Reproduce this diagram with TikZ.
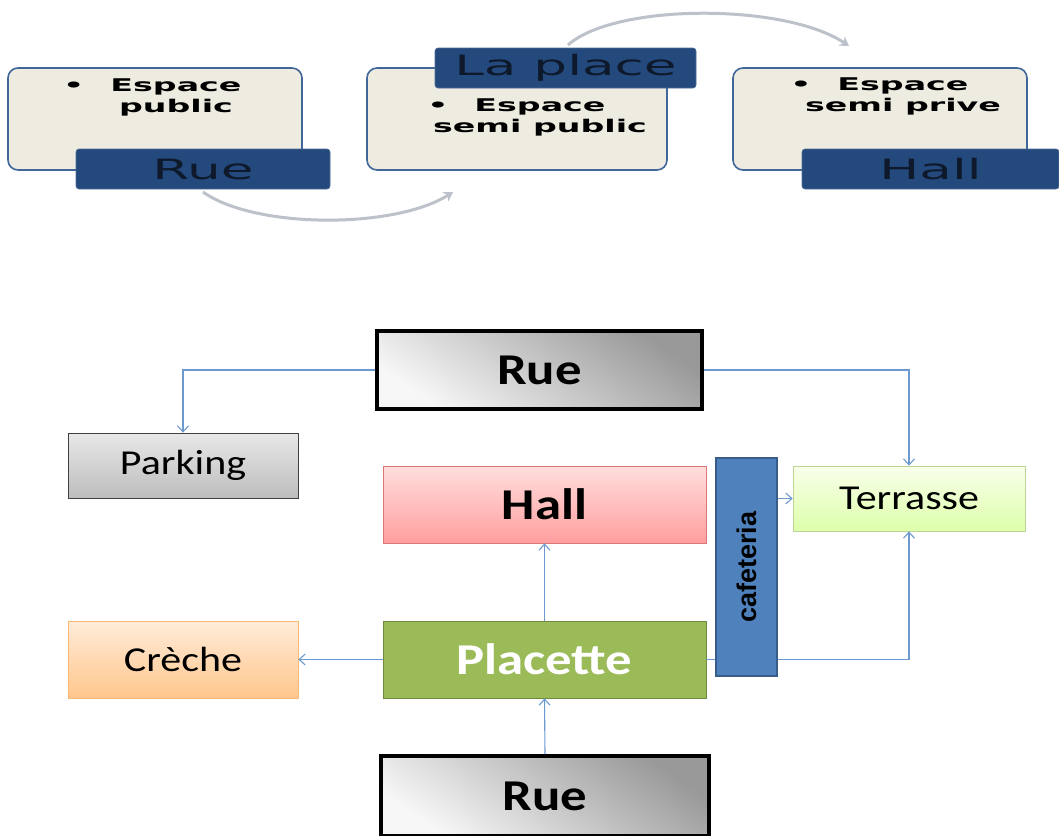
\documentclass[tikz,border=0pt]{standalone}
\usepackage{fontspec}
\setmainfont{Carlito}
\newfontfamily\smartfont{DejaVu Sans}[FakeStretch=1.9]
\newfontfamily\planfont{Carlito}[FakeStretch=1.2]
\newfontfamily\cafefont{Liberation Sans}
\usetikzlibrary{arrows.meta}
\definecolor{spacefill}{HTML}{EEECE1}
\definecolor{spaceline}{HTML}{41669A}
\definecolor{tabfill}{HTML}{24497D}
\definecolor{tabtext}{HTML}{0E1A2B}
\definecolor{arcgrey}{HTML}{BCC1CA}
\definecolor{linkblue}{HTML}{6C9AD0}
\definecolor{cafefill}{HTML}{4F81BD}
\definecolor{cafeline}{HTML}{385D8A}
\definecolor{placefill}{HTML}{9BBB59}
\definecolor{placeline}{HTML}{71893F}
\newcommand{\bulletitem}{\llap{•\hspace{26pt}}}
\begin{document}
\begin{tikzpicture}[x=1pt, y=-1pt,
    spacebox/.style={draw=spaceline, line width=1.6pt, fill=spacefill, rounded corners=10pt, inner sep=0pt},
    tabbox/.style={draw=tabfill!80!white, line width=0.6pt, fill=tabfill, rounded corners=3pt, inner sep=0pt, minimum height=40pt,
      font=\smartfont\fontsize{28}{30}\selectfont, text=tabtext},
    spacetext/.style={align=center, inner sep=0pt, font=\smartfont\bfseries\fontsize{17.5}{21}\selectfont},
    arcarr/.style={draw=arcgrey, line width=3pt, -{Stealth[length=9pt,width=11pt]}},
    ruebox/.style={draw=black, line width=4pt, inner sep=0pt, top color=black!40, bottom color=white!97!black, shading angle=-35,
      font=\planfont\bfseries\fontsize{44}{44}\selectfont},
    planbox/.style={draw, line width=0.8pt, inner sep=0pt, font=\planfont\fontsize{35}{35}\selectfont},
    linkarr/.style={draw=linkblue, line width=1.1pt, -{Straight Barb[length=6pt,width=11pt]}}]
  \useasboundingbox (0,0) rectangle (1059,835);

  % spaces
  \node[spacebox, minimum width=294pt, minimum height=102pt] (pub) at (155,119) {};
  \node[spacebox, minimum width=300pt, minimum height=102pt] (semipub) at (517,119) {};
  \node[spacebox, minimum width=294pt, minimum height=102pt] (semipriv) at (880,119) {};
  \node[spacetext] (pubtxt) at (176,97) {\bulletitem Espace\\public};
  \node[spacetext] (semipubtxt) at (540,117) {\bulletitem Espace\\semi public};
  \node[spacetext] (semiprivtxt) at (903,96) {\bulletitem Espace\\semi prive};
  \node[tabbox, minimum width=254pt] (tabrue) at (203,169) {Rue};
  \node[tabbox, minimum width=261pt] (tabplace) at (565.5,68) {La place};
  \node[tabbox, minimum width=257pt] (tabhall) at (930.5,169) {Hall};
  \coordinate (arc1a) at (203,192);
  \coordinate (arc1b) at (453,192);
  \coordinate (arc2a) at (568,45);
  \coordinate (arc2b) at (849,46);
  \draw[arcarr] (arc1a) .. controls (255,229) and (395,229) .. (arc1b);
  \draw[arcarr] (arc2a) .. controls (615,3) and (785,3) .. (arc2b);

  % plan
  \node[ruebox, minimum width=325pt, minimum height=78pt] (rueN) at (539.5,370) {Rue};
  \node[planbox, draw=black!75, top color=black!9, bottom color=black!26, minimum width=230pt, minimum height=65pt] (parking) at (183,465.5) {Parking};
  \node[planbox, draw=red!45!white!85!black, top color=red!13, bottom color=red!38, minimum width=323pt, minimum height=77pt,
    font=\planfont\bfseries\fontsize{44}{44}\selectfont] (hall) at (544.5,504.5) {Hall};
  \node[planbox, draw=placefill!65, top color=green!30!yellow!8, bottom color=green!40!yellow!33, minimum width=232pt, minimum height=65pt] (terrasse) at (909,498.5) {Terrasse};
  \node[planbox, draw=orange!55, top color=orange!15, bottom color=orange!45, minimum width=230pt, minimum height=77pt] (creche) at (183,659.5) {Crèche};
  \node[planbox, draw=placeline, fill=placefill, text=white, minimum width=323pt, minimum height=77pt,
    font=\planfont\bfseries\fontsize{44}{44}\selectfont] (placette) at (544.5,659.5) {Placette};
  \node[ruebox, minimum width=328pt, minimum height=80pt] (rueS) at (545,796) {Rue};

  \draw[linkarr] (rueN.west) -| (parking.north);
  \draw[linkarr] (rueN.east) -| (terrasse.north);
  \draw[linkarr] (placette.north) -- (hall.south);
  \draw[linkarr] (placette.west) -- (creche.east);
  \draw[linkarr] (placette.east) -| (terrasse.south);
  \draw[linkarr] (rueS.north) -- (placette.south);

  \node[planbox, draw=cafeline, line width=1.2pt, fill=cafefill, minimum width=61pt, minimum height=218pt,
    font=\cafefont\bfseries\fontsize{27}{27}\selectfont] (cafe) at (746.5,567) {\rotatebox{90}{cafeteria}};
  \draw[linkarr] (cafe.east |- terrasse.west) -- (terrasse.west);
\end{tikzpicture}
\end{document}
